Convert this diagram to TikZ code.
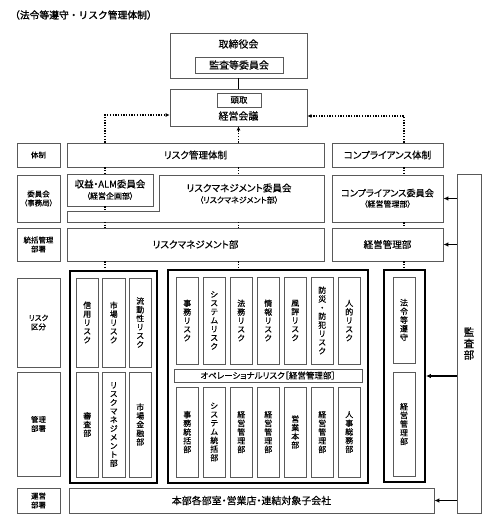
\documentclass[tikz,border=0pt]{standalone}
\usepackage{fontspec}
\setmainfont{Noto Sans CJK JP}[RawFeature=+palt, FakeBold=0.4]
\newfontfamily\titlefont{Noto Sans CJK JP}[FakeBold=1.4]
\newfontfamily\vfont{Noto Sans CJK JP}[FakeBold=0.4]
\usetikzlibrary{arrows.meta}
\definecolor{boxgray}{gray}{0.35}
\newcommand\bx[6][]{\node[box,#1,minimum width={(#4-#2)*1bp},minimum height={(#5-#3)*1bp}] (#6) at ({(#2+#4)/2},{(#3+#5)/2})}
\tikzset{
  box/.style={draw=boxgray, line width=0.8bp, fill=white, inner sep=0pt, align=center, text=black, font=\fontsize{9.6}{12}\selectfont},
  grp/.style={draw=black, line width=1.8bp},
  lab/.style={font=\fontsize{7.5}{9}\selectfont},
  vt/.style={font=\vfont\fontsize{8}{8.7}\selectfont},
  big/.style={font=\fontsize{9.6}{12}\selectfont, inner sep=0pt},
  sub/.style={font=\fontsize{8}{10}\selectfont, inner sep=0pt},
  dotc/.style={line width=1.3bp, dash pattern=on 1.3bp off 1.4bp, black},
  darr/.style={-{Latex[length=4bp,width=4bp]}},
  sarr/.style={line width=1.3bp, black, -{Latex[length=5bp,width=4.5bp]}},
  lbox/.style={draw=boxgray, line width=0.8bp, fill=white}
}
\begin{document}
\begin{tikzpicture}[x=1bp,y=-1bp]
\useasboundingbox[fill=white] (0,0) rectangle (493,521);
% title
\node[anchor=west, inner sep=0pt, font=\titlefont\fontsize{9.8}{11}\selectfont] (title) at (10,15) {（法令等遵守・リスク管理体制）};
% top
\bx{170}{33}{307}{78}{tori}{};
\node[big, font=\fontsize{10}{12}\selectfont] (toritxt) at (238.5,44) {取締役会};
\bx[font=\fontsize{10}{12}\selectfont]{195}{57}{283}{73}{kansa}{監査等委員会};
\bx{170}{89}{307}{126}{keiei}{};
\bx[font=\fontsize{8.5}{10}\selectfont]{217}{93}{261}{107}{todori}{頭取};
\node[big, font=\fontsize{10}{12}\selectfont] (keieitxt) at (238.5,116) {経営会議};
\draw[line width=1.5bp] (tori.south) -- (keiei.north);
% labels
\bx[lab]{17}{143}{60}{167}{l1}{体制};
\bx[lab]{17}{175}{60}{222}{l2}{委員会\\（事務局）};
\bx[lab]{17}{228}{60}{261}{l3}{統括管理\\部署};
\bx[lab]{17}{278}{60}{367}{l4}{リスク\\区分};
\bx[lab]{17}{372}{60}{476}{l5}{管理\\部署};
\bx[lab]{17}{488}{60}{513}{l6}{運営\\部署};
% rows
\bx{67}{143}{324}{167}{rkt}{リスク管理体制};
\bx{332}{143}{443}{167}{cpt}{コンプライアンス体制};
\draw[lbox] (159,175) -- (324,175) -- (324,222) -- (67,222) -- (67,211) -- (159,211) -- cycle;
\coordinate (Ltop) at (159,175);
\coordinate (step) at (67,211);
\coordinate (Lbot) at (67,222);
\node[big] (rmc) at (239,188) {リスクマネジメント委員会};
\node[sub] (rmcs) at (239,200) {（リスクマネジメント部）};
\bx{67}{174}{153}{206}{alm}{};
\node[big, font=\fontsize{9.5}{11}\selectfont] (almt) at (110,184) {収益・ALM委員会};
\node[sub] (alms) at (110,196) {（経営企画部）};
\bx{332}{175}{443}{222}{cpc}{};
\node[big, font=\fontsize{9.2}{11}\selectfont] (cpct) at (387.5,193) {コンプライアンス委員会};
\node[sub] (cpcs) at (387.5,204) {（経営管理部）};
\bx{67}{228}{324}{261}{rmd}{リスクマネジメント部};
\bx{332}{228}{443}{261}{kkb}{経営管理部};
\bx[font=\vfont\fontsize{10.5}{11.5}\selectfont]{457}{174}{481}{513}{kansabu}{監\\査\\部};
% groups
\bx[grp]{70}{271}{157}{483}{gl}{};
\bx[grp]{168}{270}{368}{483}{gm}{};
\bx[grp]{384}{270}{425}{482}{gr}{};
% left group
\bx[vt]{76}{278}{98.5}{367}{a1}{信\\用\\リ\\ス\\ク};
\bx[vt]{102.5}{278}{125}{367}{a2}{市\\場\\リ\\ス\\ク};
\bx[vt]{129}{278}{151.5}{367}{a3}{流\\動\\性\\リ\\ス\\ク};
\bx[vt]{76}{372}{98.5}{477}{b1}{審\\査\\部};
\bx[vt]{102.5}{372}{125}{477}{b2}{リ\\ス\\ク\\マ\\ネ\\ジ\\メ\\ン\\ト\\部};
\bx[vt]{129}{372}{151.5}{477}{b3}{市\\場\\金\\融\\部};
% middle group
\bx[vt]{176}{277}{198.5}{364}{c1}{事\\務\\リ\\ス\\ク};
\bx[vt]{203}{277}{225.5}{364}{c2}{シ\\ス\\テ\\ム\\リ\\ス\\ク};
\bx[vt]{230}{277}{252.5}{364}{c3}{法\\務\\リ\\ス\\ク};
\bx[vt]{257}{277}{279.5}{364}{c4}{情\\報\\リ\\ス\\ク};
\bx[vt]{284}{277}{306.5}{364}{c5}{風\\評\\リ\\ス\\ク};
\bx[vt]{311}{277}{333.5}{364}{c6}{防\\災\\・\\防\\犯\\リ\\ス\\ク};
\bx[vt]{338}{277}{360.5}{364}{c7}{人\\的\\リ\\ス\\ク};
\bx[font=\fontsize{8.5}{10}\selectfont]{174}{369}{362}{382}{op}{オペレーショナルリスク［経営管理部］};
\bx[vt]{176}{387}{198.5}{477}{d1}{事\\務\\統\\括\\部};
\bx[vt]{203}{387}{225.5}{477}{d2}{シ\\ス\\テ\\ム\\統\\括\\部};
\bx[vt]{230}{387}{252.5}{477}{d3}{経\\営\\管\\理\\部};
\bx[vt]{257}{387}{279.5}{477}{d4}{経\\営\\管\\理\\部};
\bx[vt]{284}{387}{306.5}{477}{d5}{営\\業\\本\\部};
\bx[vt]{311}{387}{333.5}{477}{d6}{経\\営\\管\\理\\部};
\bx[vt]{338}{387}{360.5}{477}{d7}{人\\事\\総\\務\\部};
% right group
\bx[vt]{393}{277}{415}{363}{e1}{法\\令\\等\\遵\\守};
\bx[vt]{393}{372}{415}{476}{e2}{経\\営\\管\\理\\部};
% bottom
\bx[font=\fontsize{10}{12}\selectfont]{69}{488}{434}{513}{honbu}{本部各部室・営業店・連結対象子会社};
% dotted connectors
\coordinate (lc) at (105,115);
\coordinate (rc) at (404,116);
\draw[dotc,darr] (rkt.north -| lc) -- (lc) -- (keiei.west |- lc);
\draw[dotc,darr] (cpt.north -| rc) -- (rc) -- (keiei.east |- rc);
\draw[dotc,darr] (rkt.north -| keiei.south) -- (keiei.south);
\draw[dotc] (rkt.south -| lc) -- (alm.north -| lc);
\draw[dotc] (rkt.south -| keiei.south) -- (Ltop -| keiei.south);
\draw[dotc] (cpt.south -| rc) -- (cpc.north -| rc);
\draw[dotc] (alm.south -| lc) -- (step -| lc);
\draw[dotc] (Lbot -| lc) -- (rmd.north -| lc);
\draw[dotc] (Lbot -| keiei.south) -- (rmd.north -| keiei.south);
\draw[dotc] (cpc.south -| rc) -- (kkb.north -| rc);
\draw[dotc] (rmd.south -| lc) -- (gl.north -| lc);
\draw[dotc] (rmd.south -| keiei.south) -- (gm.north -| keiei.south);
\draw[dotc] (kkb.south -| rc) -- (gr.north -| rc);
% audit arrows
\draw[sarr] (kansabu.west |- cpc.east) -- (cpc.east);
\draw[sarr] (kansabu.west |- kkb.east) -- (kkb.east);
\draw[sarr] (kansabu.west |- gr.east) -- (gr.east);
\draw[sarr] (kansabu.west |- honbu.east) -- (honbu.east);
\end{tikzpicture}
\end{document}
